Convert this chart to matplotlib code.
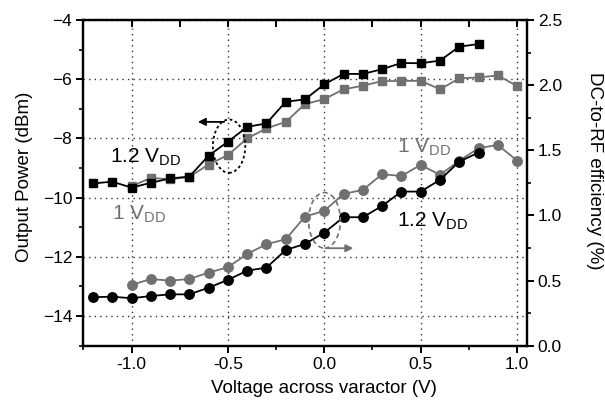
"""Output power and DC-to-RF efficiency vs. varactor voltage."""

import matplotlib

matplotlib.use("Agg")
import matplotlib.pyplot as plt
from matplotlib.patches import Ellipse
from matplotlib.ticker import MultipleLocator, FormatStrFormatter

plt.rcParams["font.family"] = ["Liberation Sans", "DejaVu Sans"]
plt.rcParams["mathtext.fontset"] = "custom"
plt.rcParams["mathtext.rm"] = "Liberation Sans"

# 1.2 VDD series (black), 1 VDD series (gray)
x_12 = [-1.2, -1.1, -1.0, -0.9, -0.8, -0.7, -0.6, -0.5, -0.4, -0.3, -0.2,
        -0.1, 0.0, 0.1, 0.2, 0.3, 0.4, 0.5, 0.6, 0.7, 0.8]
x_10 = [-1.0, -0.9, -0.8, -0.7, -0.6, -0.5, -0.4, -0.3, -0.2, -0.1, 0.0,
        0.1, 0.2, 0.3, 0.4, 0.5, 0.6, 0.7, 0.8, 0.9, 1.0]

pwr_12 = [-9.52, -9.46, -9.66, -9.50, -9.35, -9.29, -8.58, -8.11, -7.61, -7.49,
          -6.76, -6.68, -6.17, -5.82, -5.82, -5.66, -5.45, -5.46, -5.37, -4.90, -4.81]
pwr_10 = [-9.62, -9.33, -9.38, -9.30, -8.88, -8.56, -8.00, -7.66, -7.44, -6.84,
          -6.67, -6.34, -6.22, -6.06, -6.06, -6.05, -6.34, -5.97, -5.94, -5.87, -6.23]

eff_12 = [0.372, 0.376, 0.364, 0.381, 0.394, 0.394, 0.445, 0.505, 0.576, 0.599,
          0.735, 0.781, 0.868, 0.986, 0.986, 1.073, 1.183, 1.183, 1.273, 1.413, 1.482]
eff_10 = [0.466, 0.512, 0.499, 0.512, 0.561, 0.602, 0.704, 0.779, 0.817, 0.991,
          1.035, 1.165, 1.196, 1.316, 1.303, 1.388, 1.311, 1.420, 1.516, 1.541, 1.421]

GRAY = "#707070"

fig = plt.figure(figsize=(6.05, 4.01), dpi=100)
ax = fig.add_axes([0.1377, 0.138, 0.7329, 0.812])
ax2 = ax.twinx()

# power (left axis)
ax.plot(x_10, pwr_10, color=GRAY, marker="s", ms=6.2, lw=1.3, zorder=3)
ax.plot(x_12, pwr_12, color="black", marker="s", ms=6.2, lw=1.3, zorder=4)

# efficiency (right axis)
ax2.plot(x_10, eff_10, color=GRAY, marker="o", ms=6.8, lw=1.3, zorder=3)
ax2.plot(x_12, eff_12, color="black", marker="o", ms=6.8, lw=1.3, zorder=4)

ax.set_xlim(-1.25, 1.05)
ax.set_ylim(-15, -4)
ax2.set_ylim(0, 2.5)

ax.xaxis.set_major_locator(MultipleLocator(0.5))
ax.xaxis.set_minor_locator(MultipleLocator(0.25))
ax.xaxis.set_major_formatter(FormatStrFormatter("%.1f"))
ax.yaxis.set_major_locator(MultipleLocator(2))
ax.yaxis.set_minor_locator(MultipleLocator(1))
ax2.yaxis.set_major_locator(MultipleLocator(0.5))
ax2.yaxis.set_minor_locator(MultipleLocator(0.25))
ax2.yaxis.set_major_formatter(FormatStrFormatter("%.1f"))

for a in (ax, ax2):
    for s in a.spines.values():
        s.set_linewidth(1.6)
ax.tick_params(which="major", direction="out", length=5, width=1.4,
               labelsize=12.5, pad=3)
ax.tick_params(which="minor", direction="out", length=3, width=1.2)
ax2.tick_params(axis="y", which="major", direction="out", length=5, width=1.4,
                labelsize=12.5, pad=3)
ax2.tick_params(axis="y", which="minor", direction="out", length=3, width=1.2)

# inward ticks on the top edge, every 0.25 V (twin's shared x axis)
ax2.xaxis.set_visible(True)
ax2.tick_params(axis="x", which="both", direction="in", length=5, width=1.4,
                top=True, bottom=False, labeltop=False, labelbottom=False)

# dotted grid at the major ticks of the power axis
ax.grid(True, which="major", color="#333333", linestyle=(0, (1, 3)), lw=1.0)

fig.text(0.5355, 0.019, "Voltage across varactor (V)", ha="center",
         va="baseline", fontsize=13.5)
fig.text(0.040, 0.560, "Output Power (dBm)", rotation=90, ha="center",
         va="center", fontsize=13.5)
fig.text(0.983, 0.575, "DC-to-RF efficiency (%)", rotation=270, ha="center",
         va="center", fontsize=13.5)

# curve labels
ax.text(-1.113, -8.81, r"1.2 V$_{\mathrm{DD}}$", fontsize=15, va="baseline")
ax.text(-1.099, -10.75, r"1 V$_{\mathrm{DD}}$", fontsize=15, va="baseline",
        color=GRAY)
ax.text(0.379, -8.48, r"1 V$_{\mathrm{DD}}$", fontsize=15, va="baseline",
        color=GRAY)
ax.text(0.375, -10.96, r"1.2 V$_{\mathrm{DD}}$", fontsize=15, va="baseline")

# ellipse + arrow markers pointing to the axes
ax.add_patch(Ellipse((-0.494, -8.26), 0.168, 1.80, fill=False, ec="black",
                     lw=1.3, ls=(0, (1.5, 1.5)), zorder=5))
ax.annotate("", xy=(-0.67, -7.44), xytext=(-0.505, -7.44),
            arrowprops=dict(arrowstyle="-|>", color="black", lw=1.3,
                            mutation_scale=11))
ax2.add_patch(Ellipse((0.001, 0.962), 0.165, 0.427, fill=False, ec=GRAY,
                      lw=1.2, ls=(0, (3, 2)), zorder=5))
ax2.annotate("", xy=(0.165, 0.748), xytext=(0.0, 0.748),
             arrowprops=dict(arrowstyle="-|>", color=GRAY, lw=1.3,
                             mutation_scale=11))

fig.savefig("out.png", dpi=100)
